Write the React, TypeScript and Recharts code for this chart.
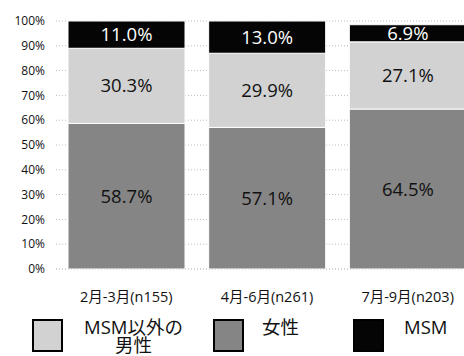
import React from "react";
import { BarChart, Bar, XAxis, YAxis, CartesianGrid, LabelList } from "recharts";

const periods = ["2月-3月(n155)", "4月-6月(n261)", "7月-9月(n203)"];
const women = [58.7, 57.1, 64.5];
const nonMsmMen = [30.3, 29.9, 27.1];
const msm = [11.0, 13.0, 6.9];
const yTicks = [0, 10, 20, 30, 40, 50, 60, 70, 80, 90, 100];

const legendItems = [
  { name: "MSM以外の\n男性", fill: "#d2d2d2", left: 32, textLeft: 84 },
  { name: "女性", fill: "#858585", left: 213, textLeft: 262 },
  { name: "MSM", fill: "#050505", left: 353, textLeft: 404 },
];

const data = periods.map((p, i) => ({
  period: p,
  women: women[i],
  nonMsmMen: nonMsmMen[i],
  msm: msm[i],
}));

const FONT = "'Open Sans', 'Noto Sans CJK JP', sans-serif";

const pct = (v: any) => `${Number(v).toFixed(1)}%`;

const CustomLegend = () => (
  <div style={{ position: "absolute", left: 0, top: 318, width: 464, height: 38, fontFamily: FONT }}>
    {legendItems.map((item) => (
      <React.Fragment key={item.name}>
        <div
          style={{
            position: "absolute",
            left: item.left,
            top: 1,
            width: 31,
            height: 33,
            boxSizing: "border-box",
            background: item.fill,
            border: "2px solid #000",
          }}
        />
        <div
          style={{
            position: "absolute",
            left: item.textLeft,
            top: 0,
            fontSize: 18.5,
            lineHeight: "18px",
            color: "#111",
            whiteSpace: "pre",
            textAlign: "center",
          }}
        >
          {item.name}
        </div>
      </React.Fragment>
    ))}
  </div>
);

export default function App() {
  return (
    <div
      style={{
        position: "absolute",
        left: 0,
        top: 0,
        width: 464,
        height: 356,
        overflow: "hidden",
        background: "#fff",
      }}
    >
      <BarChart
        width={480}
        height={356}
        data={data}
        margin={{ top: 21, right: 2, left: 0, bottom: 57 }}
        barCategoryGap={12}
      >
        <CartesianGrid vertical={false} stroke="#bdbdbd" strokeDasharray="1 2" />
        <YAxis
          type="number"
          domain={[0, 100]}
          ticks={yTicks}
          tickFormatter={(v) => `${v}%`}
          width={56}
          axisLine={false}
          tickLine={false}
          tickMargin={5}
          interval={0}
          tick={{ fill: "#111", fontSize: 12, fontFamily: FONT }}
        />
        <XAxis
          dataKey="period"
          height={30}
          axisLine={{ stroke: "#c8c8c8", strokeDasharray: "1 2" }}
          tickLine={false}
          tickMargin={17}
          interval={0}
          tick={{ fill: "#111", fontSize: 14.5, fontFamily: FONT }}
        />
        <Bar dataKey="women" stackId="a" fill="#858585" stroke="#fff" strokeWidth={1} isAnimationActive={false}>
          <LabelList
            dataKey="women"
            position="center"
            formatter={pct}
            style={{ fill: "#111", fontSize: 18.5, fontFamily: FONT }}
          />
        </Bar>
        <Bar dataKey="nonMsmMen" stackId="a" fill="#d2d2d2" stroke="#fff" strokeWidth={1} isAnimationActive={false}>
          <LabelList
            dataKey="nonMsmMen"
            position="center"
            formatter={pct}
            style={{ fill: "#111", fontSize: 18.5, fontFamily: FONT }}
          />
        </Bar>
        <Bar dataKey="msm" stackId="a" fill="#050505" stroke="#fff" strokeWidth={1} isAnimationActive={false}>
          <LabelList
            dataKey="msm"
            position="center"
            formatter={pct}
            style={{ fill: "#fff", fontSize: 18.5, fontFamily: FONT }}
          />
        </Bar>
      </BarChart>
      <CustomLegend />
    </div>
  );
}
